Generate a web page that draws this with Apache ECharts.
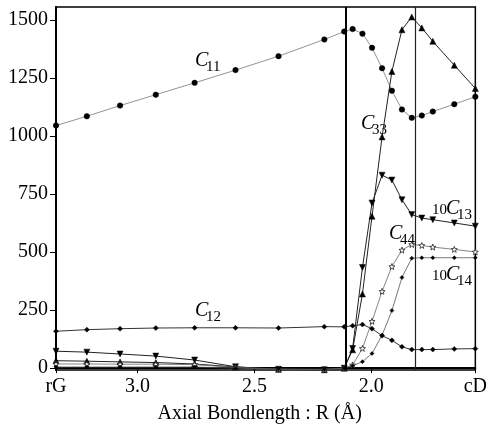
<!DOCTYPE html>
<html>
<head>
<meta charset="utf-8">
<script src="https://cdn.jsdelivr.net/npm/echarts@6/dist/echarts.min.js"></script>
<style>
  html, body { margin: 0; padding: 0; background: #fff; }
  #chart { width: 490px; height: 429px; }
</style>
</head>
<body>
<div id="chart"></div>
<script>
// bond length R (Å), plotted from rG down to cD
var rValues = [3.349, 3.217, 3.075, 2.922, 2.756, 2.581, 2.397, 2.201, 2.116, 2.080,
               2.038, 1.997, 1.954, 1.912, 1.869, 1.827, 1.784, 1.737, 1.645, 1.555];
var c11 = [1046, 1086, 1132, 1179, 1230, 1285, 1345, 1417, 1451, 1462,
           1442, 1381, 1293, 1196, 1115, 1079, 1089, 1106, 1138, 1170];
var c33 = [32, 30, 27, 24, 18, 5, -5, -7, 0, 79,
           320, 655, 997, 1279, 1459, 1514, 1467, 1409, 1306, 1206];
var c13x10 = [73, 69, 61, 52, 35, 6, -5, -7, 0, 85,
              434, 712, 832, 811, 726, 662, 647, 640, 626, 612];
var c12 = [159, 166, 170, 173, 174, 174, 173, 179, 178, 183,
           188, 170, 140, 120, 92, 80, 80, 80, 83, 84];
var c44 = [18, 18, 17, 17, 15, 3, -5, -6, 0, 14,
           85, 202, 331, 438, 509, 533, 529, 522, 512, 501];
var c14x10 = [5, 5, 5, 5, 5, 0, -4, -5, 0, 10,
              28, 63, 142, 248, 391, 474, 476, 476, 476, 476];
var xTicks = [3.349, 3.0, 2.5, 2.0, 1.555];
var xTickNames = ['rG', '3.0', '2.5', '2.0', 'cD'];
var yTicks = [0, 250, 500, 750, 1000, 1250, 1500];
var phaseLines = [2.109, 1.811];

var serif = 'Liberation Serif';

function pairs(ys) {
  return ys.map(function (y, i) { return [rValues[i], y]; });
}

function line(name, ys, symbol, size, color, width, rotate) {
  return {
    name: name, type: 'line', data: pairs(ys), clip: false,
    symbol: symbol, symbolSize: size, symbolRotate: rotate || 0,
    itemStyle: { color: '#000', borderColor: '#000', borderWidth: 0.5 },
    lineStyle: { color: color, width: width },
    emphasis: { disabled: true }
  };
}

// italic C with a subscript, optional prefix factor
function cLabel(x, y, pre, sub) {
  var els = [];
  var cx = x;
  if (pre) {
    els.push({ type: 'text', x: x, y: y + 4, style: { text: pre, fontFamily: serif, fontSize: 15, fill: '#000' } });
    cx = x + 14;
  }
  els.push({ type: 'text', x: cx, y: y, style: { text: 'C', fontFamily: serif, fontStyle: 'italic', fontSize: 20, fill: '#000' } });
  els.push({ type: 'text', x: cx + 11, y: y + 9, style: { text: sub, fontFamily: serif, fontSize: 15, fill: '#000' } });
  return els;
}

var star = 'path://M0,-10L2.4,-3.3L9.5,-3.1L3.9,1.3L5.9,8.1L0,4.1L-5.9,8.1L-3.9,1.3L-9.5,-3.1L-2.4,-3.3Z';

var c11Series = line('C11', c11, 'circle', 5.5, '#777', 0.8);
c11Series.markLine = {
  silent: true, symbol: 'none', animation: false, label: { show: false },
  data: [
    { xAxis: phaseLines[0], lineStyle: { color: '#000', width: 2, type: 'solid' } },
    { xAxis: phaseLines[1], lineStyle: { color: '#222', width: 1.2, type: 'solid' } }
  ]
};

var c44Series = line('C44', c44, star, 6, '#666', 0.8);
c44Series.itemStyle = { color: '#fff', borderColor: '#222', borderWidth: 0.8 };

var chart = echarts.init(document.getElementById('chart'));
chart.setOption({
  animation: false,
  grid: { left: 56, right: 12, top: 7, bottom: 56, show: true, borderColor: '#000', borderWidth: 1.5 },
  xAxis: {
    type: 'value', inverse: true, min: 1.555, max: 3.349,
    name: 'Axial Bondlength : R (Å)', nameLocation: 'middle', nameGap: 34,
    nameTextStyle: { fontFamily: serif, fontSize: 20, color: '#000', padding: [0, 12, 0, 0] },
    axisLine: { lineStyle: { color: '#000', width: 2 } },
    axisTick: { customValues: xTicks, length: 5, lineStyle: { color: '#000' } },
    axisLabel: {
      customValues: xTicks, margin: 7, fontFamily: serif, fontSize: 20, color: '#000',
      formatter: function (v) {
        var i = xTicks.indexOf(v);
        return i >= 0 ? xTickNames[i] : '';
      }
    },
    splitLine: { show: false }
  },
  yAxis: {
    type: 'value', min: -8, max: 1557,
    axisLine: { show: true, lineStyle: { color: '#000', width: 2 } },
    axisTick: { show: true, customValues: yTicks, length: 6, lineStyle: { color: '#000' } },
    axisLabel: {
      customValues: yTicks, margin: 8, fontFamily: serif, fontSize: 20, color: '#000',
      formatter: function (v) { return String(v); }
    },
    splitLine: { show: false }
  },
  series: [
    c11Series,
    line('C33', c33, 'triangle', 6, '#222', 1),
    line('10C13', c13x10, 'triangle', 6, '#222', 1, 180),
    line('C12', c12, 'diamond', 5, '#333', 1),
    c44Series,
    line('10C14', c14x10, 'diamond', 4, '#555', 0.8)
  ],
  graphic: [].concat(
    cLabel(195, 51, '', '11'),
    cLabel(361, 114, '', '33'),
    cLabel(195, 301, '', '12'),
    cLabel(432, 199, '10', '13'),
    cLabel(389, 224, '', '44'),
    cLabel(432, 265, '10', '14')
  )
});
</script>
</body>
</html>
